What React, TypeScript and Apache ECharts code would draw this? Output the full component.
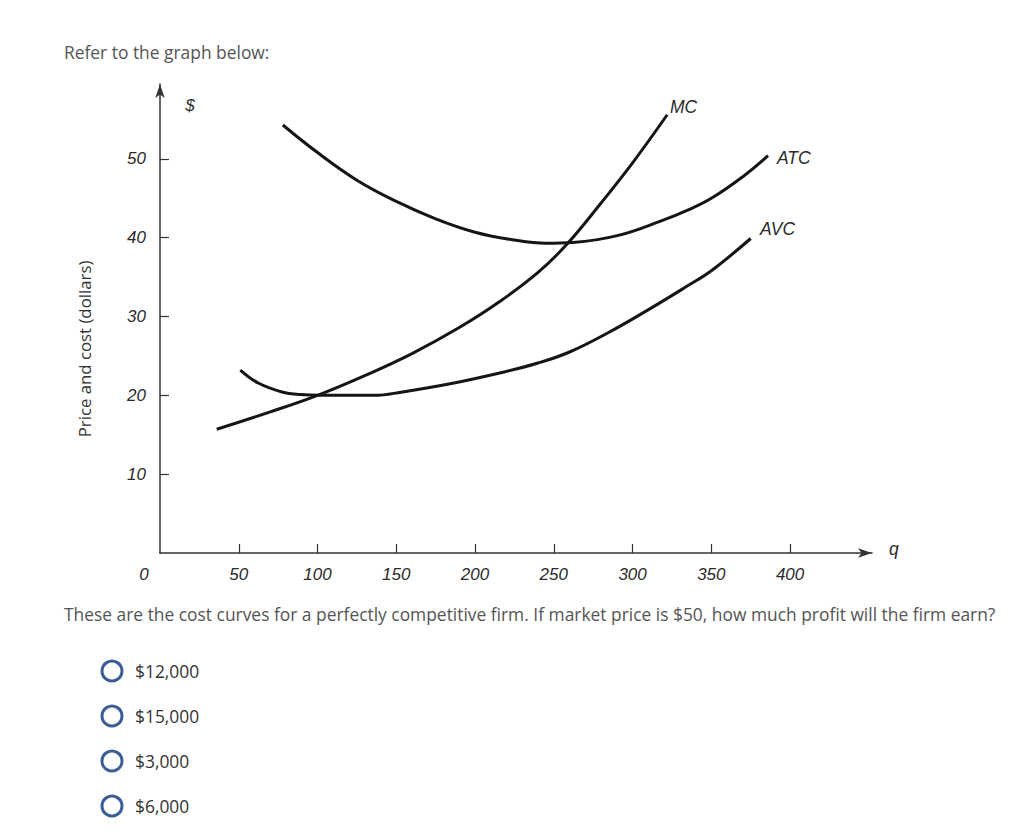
import React, { useEffect, useRef } from "react";
import * as echarts from "echarts";

// ---- data ----
const qTicks = [50, 100, 150, 200, 250, 300, 350, 400];
const priceTicks = [10, 20, 30, 40, 50];

const mcData: number[][] = [
  [36, 15.7], [70, 17.9], [100, 20.0], [130, 22.5], [160, 25.3], [190, 28.6],
  [215, 31.8], [240, 35.6], [258, 39.1], [280, 44.4], [300, 49.5], [322, 55.6],
];
const atcData: number[][] = [
  [78, 54.3], [100, 50.8], [125, 47.3], [150, 44.6], [175, 42.4], [200, 40.7],
  [225, 39.7], [245, 39.3], [262, 39.4], [291, 40.3], [319, 42.2], [335, 43.5],
  [350, 45.0], [371, 47.9], [386, 50.4],
];
const avcData: number[][] = [
  [51, 23.2], [62, 21.6], [78, 20.4], [89, 20.1], [102, 20.0], [136, 20.0],
  [153, 20.4], [185, 21.5], [217, 22.9], [240, 24.1], [260, 25.5], [285, 28.0],
  [312, 31.1], [335, 33.9], [350, 35.8], [375, 39.9],
];
const curveNames = ["MC", "ATC", "AVC"];
const answerOptions = ["$12,000", "$15,000", "$3,000", "$6,000"];
const introText = "Refer to the graph below:";
const questionText =
  "These are the cost curves for a perfectly competitive firm. If market price is $50, how much profit will the firm earn?";
const yAxisTitle = "Price and cost (dollars)";

const UI_FONT = "'Open Sans', 'Noto Sans', sans-serif";
const AXIS_FONT = "'Liberation Sans', Arial, sans-serif";

export default function App() {
  const ref = useRef<HTMLDivElement>(null);

  useEffect(() => {
    if (!ref.current) return;
    const chart = echarts.init(ref.current, null, { renderer: "svg" });

    const curveStyle = { color: "#151515", width: 3 };
    const mkSeries = (name: string, data: number[][]) => ({
      name,
      type: "line",
      data,
      smooth: 0.4,
      showSymbol: false,
      symbol: "none",
      lineStyle: curveStyle,
      itemStyle: { color: "#151515" },
      silent: true,
    });

    const axisLabelStyle = {
      fontFamily: AXIS_FONT,
      fontStyle: "italic",
      fontSize: 17,
      color: "#2b2b2b",
    };

    const graphics: any[] = [
      {
        type: "text",
        x: 64,
        y: 52,
        style: { text: introText, font: `17.4px ${UI_FONT}`, fill: "#555", align: "left", verticalAlign: "middle" },
      },
      {
        type: "text",
        x: 64,
        y: 614,
        style: { text: questionText, font: `17.4px ${UI_FONT}`, fill: "#555", align: "left", verticalAlign: "middle" },
      },
      {
        type: "text",
        x: 84,
        y: 349,
        rotation: Math.PI / 2,
        style: { text: yAxisTitle, font: `16.8px 'Open Sans', sans-serif`, fill: "#333", align: "center", verticalAlign: "middle" },
      },
      {
        type: "text",
        x: 144,
        y: 574,
        style: { text: "0", font: `italic 17px ${AXIS_FONT}`, fill: "#2b2b2b", align: "center", verticalAlign: "middle" },
      },
      {
        type: "text",
        x: 190,
        y: 105,
        style: { text: "$", font: `italic 17px ${AXIS_FONT}`, fill: "#2b2b2b", align: "center", verticalAlign: "middle" },
      },
      {
        type: "text",
        x: 889,
        y: 549,
        style: { text: "q", font: `italic 17.5px ${AXIS_FONT}`, fill: "#2b2b2b", align: "left", verticalAlign: "middle" },
      },
      {
        type: "text",
        x: 670,
        y: 107,
        style: { text: curveNames[0], font: `italic 17.5px ${AXIS_FONT}`, fill: "#2b2b2b", align: "left", verticalAlign: "middle" },
      },
      {
        type: "text",
        x: 777,
        y: 158,
        style: { text: curveNames[1], font: `italic 17.5px ${AXIS_FONT}`, fill: "#2b2b2b", align: "left", verticalAlign: "middle" },
      },
      {
        type: "text",
        x: 760,
        y: 229,
        style: { text: curveNames[2], font: `italic 17.5px ${AXIS_FONT}`, fill: "#2b2b2b", align: "left", verticalAlign: "middle" },
      },
    ];

    answerOptions.forEach((opt, i) => {
      const cy = 671 + i * 45;
      graphics.push({
        type: "circle",
        shape: { cx: 112, cy, r: 10 },
        style: { fill: "#fff", stroke: "#3b5d93", lineWidth: 3 },
      });
      graphics.push({
        type: "text",
        x: 135,
        y: cy,
        style: { text: opt, font: `17.4px ${UI_FONT}`, fill: "#333", align: "left", verticalAlign: "middle" },
      });
    });

    chart.setOption({
      animation: false,
      backgroundColor: "#fff",
      grid: { left: 160, right: 152, top: 84, bottom: 279, containLabel: false },
      xAxis: {
        type: "value",
        min: 0,
        max: 452,
        interval: 50,
        splitLine: { show: false },
        axisLine: {
          show: true,
          lineStyle: { color: "#333", width: 1.5 },
          symbol: ["none", "arrow"],
          symbolSize: [7, 14],
        },
        axisTick: { show: true, inside: true, length: 9, customValues: qTicks, lineStyle: { color: "#333", width: 1.2 } },
        axisLabel: { ...axisLabelStyle, customValues: qTicks, margin: 13 },
      },
      yAxis: {
        type: "value",
        min: 0,
        max: 59.5,
        interval: 10,
        splitLine: { show: false },
        axisLine: {
          show: true,
          onZero: false,
          lineStyle: { color: "#333", width: 1.5 },
          symbol: ["none", "arrow"],
          symbolSize: [7, 14],
        },
        axisTick: { show: true, inside: true, length: 9, customValues: priceTicks, lineStyle: { color: "#333", width: 1.2 } },
        axisLabel: { ...axisLabelStyle, customValues: priceTicks, margin: 14 },
      },
      series: [
        mkSeries(curveNames[0], mcData),
        mkSeries(curveNames[1], atcData),
        mkSeries(curveNames[2], avcData),
      ],
      graphic: graphics,
    });

    return () => chart.dispose();
  }, []);

  return (
    <div
      ref={ref}
      style={{ position: "fixed", left: 0, top: 0, width: 1024, height: 832, background: "#fff" }}
    />
  );
}
